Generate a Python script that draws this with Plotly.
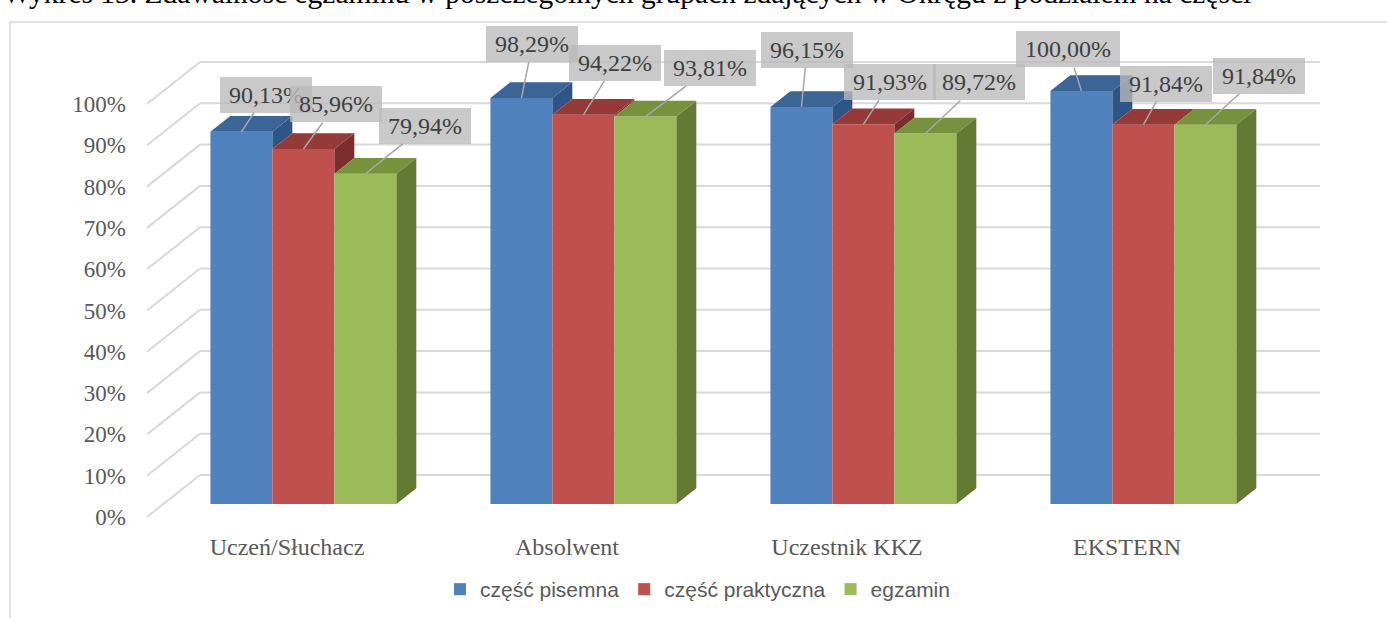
import plotly.graph_objects as go

# ---------------- data ----------------
categories = ["Uczeń/Słuchacz", "Absolwent", "Uczestnik KKZ", "EKSTERN"]
series_names = ["część pisemna", "część praktyczna", "egzamin"]
pisemna = [90.13, 98.29, 96.15, 100.00]
praktyczna = [85.96, 94.22, 91.93, 91.84]
egzamin = [79.94, 93.81, 89.72, 91.84]
tick_values = [0, 10, 20, 30, 40, 50, 60, 70, 80, 90, 100]
tick_labels = ["0%", "10%", "20%", "30%", "40%", "50%", "60%", "70%", "80%", "90%", "100%"]
title_text = ("Wykres 13. Zdawalność egzaminu w poszczególnych grupach zdających "
              "w Okręgu z podziałem na części")

series_values = [pisemna, praktyczna, egzamin]

# ---------------- style ----------------
FRONT = ["#4F81BD", "#C0504D", "#9BBB59"]
TOP = ["#3A6596", "#953A37", "#76923C"]
SIDE = ["#2F5486", "#7B2E2C", "#637A33"]
GRID = "#D9D9D9"
SERIF = "Liberation Serif, Times New Roman, serif"
SANS = "Liberation Sans, Arial, sans-serif"

W, H = 1387, 618
ML, MR = 147, 65
PX_PER_CAT = 280.0
PX_PER_PCT = 4.13
X0_PX = 287.0      # pixel of category 0 centre (front floor edge)
Y0_PX = 517.0      # pixel of 0% on front floor edge
DEPTH_DX = 53.0 / PX_PER_CAT      # x shift of full depth (category units)
DEPTH_DY = 42.0 / PX_PER_PCT      # y shift of full depth (% units)
D1, D2 = 0.31, 0.685              # bar front / back depth
BW = 62.0 / PX_PER_CAT            # bar width

x_lo = (ML - X0_PX) / PX_PER_CAT
x_hi = (W - MR - X0_PX) / PX_PER_CAT
y_lo = (Y0_PX - H) / PX_PER_PCT
y_hi = Y0_PX / PX_PER_PCT

# label offsets (pixels, box centre relative to bar top)
label_offsets = [
    [(24.5, -37), (32.5, -44.5), (59.5, -48)],
    [(11, -54), (32, -52), (64.5, -48.5)],
    [(5.7, -57), (27, -42), (54, -51)],
    [(-13, -41.5), (23, -41), (53.5, -49)],
]

fig = go.Figure()

# front faces (bars)
for k, (name, vals) in enumerate(zip(series_names, series_values)):
    xs = [i + (k - 1) * BW + D1 * DEPTH_DX for i in range(len(categories))]
    fig.add_trace(go.Bar(
        x=xs, y=vals, base=D1 * DEPTH_DY, width=BW, name=name,
        marker=dict(color=FRONT[k], line=dict(width=0)),
        hoverinfo="skip",
    ))

# top and side faces
for k, vals in enumerate(series_values):
    tx, ty, sx, sy = [], [], [], []
    for i, v in enumerate(vals):
        left = i + (k - 1) * BW - BW / 2
        right = left + BW
        # top face
        tx += [left + D1 * DEPTH_DX, right + D1 * DEPTH_DX, right + D2 * DEPTH_DX,
               left + D2 * DEPTH_DX, left + D1 * DEPTH_DX, None]
        ty += [v + D1 * DEPTH_DY, v + D1 * DEPTH_DY, v + D2 * DEPTH_DY,
               v + D2 * DEPTH_DY, v + D1 * DEPTH_DY, None]
        # visible part of right side face
        v_next = series_values[k + 1][i] if k + 1 < len(series_values) else 0.0
        if v > v_next:
            sx += [right + D1 * DEPTH_DX, right + D1 * DEPTH_DX, right + D2 * DEPTH_DX,
                   right + D2 * DEPTH_DX, right + D1 * DEPTH_DX, None]
            sy += [v_next + D1 * DEPTH_DY, v + D1 * DEPTH_DY, v + D2 * DEPTH_DY,
                   v_next + D2 * DEPTH_DY, v_next + D1 * DEPTH_DY, None]
    fig.add_trace(go.Scatter(x=sx, y=sy, mode="lines", fill="toself",
                             fillcolor=SIDE[k], line=dict(width=0, color=SIDE[k]),
                             showlegend=False, hoverinfo="skip"))
    fig.add_trace(go.Scatter(x=tx, y=ty, mode="lines", fill="toself",
                             fillcolor=TOP[k], line=dict(width=0, color=TOP[k]),
                             showlegend=False, hoverinfo="skip"))

# gridlines (back wall + side wall), below traces
shapes = []
x_left = -0.5
x_right = len(categories) - 0.5
for t in tick_values:
    shapes.append(dict(type="line", xref="x", yref="y", layer="below",
                       x0=x_left, y0=t, x1=x_left + DEPTH_DX, y1=t + DEPTH_DY,
                       line=dict(color=GRID, width=2)))
    shapes.append(dict(type="line", xref="x", yref="y", layer="below",
                       x0=x_left + DEPTH_DX, y0=t + DEPTH_DY,
                       x1=x_right + DEPTH_DX, y1=t + DEPTH_DY,
                       line=dict(color=GRID, width=2)))

# outer border of the chart object
pw = W - ML - MR
def px_to_paper_x(px):
    return (px - ML) / pw
def px_to_paper_y(py):
    return 1 - py / H
shapes.append(dict(type="line", xref="paper", yref="paper",
                   x0=px_to_paper_x(10), y0=px_to_paper_y(22),
                   x1=px_to_paper_x(10), y1=px_to_paper_y(H + 5),
                   line=dict(color=GRID, width=1.5)))
shapes.append(dict(type="line", xref="paper", yref="paper",
                   x0=px_to_paper_x(10), y0=px_to_paper_y(22),
                   x1=px_to_paper_x(W + 5), y1=px_to_paper_y(22),
                   line=dict(color=GRID, width=1.5)))

# data labels
annotations = []
for k, vals in enumerate(series_values):
    for i, v in enumerate(vals):
        txt = f"{v:.2f}%".replace(".", ",")
        ndig = sum(c.isdigit() for c in txt)
        bw = 24 * (0.5 * ndig + 0.25 + 0.833) + 16
        ax, ay = label_offsets[i][k]
        annotations.append(dict(
            x=i + (k - 1) * BW + D1 * DEPTH_DX, y=v + D1 * DEPTH_DY,
            xref="x", yref="y", text=txt, showarrow=True,
            arrowhead=0, arrowwidth=1.5, arrowcolor="#A6A6A6",
            standoff=0, startstandoff=0, ax=ax, ay=ay,
            bgcolor="rgba(186,186,186,0.78)", borderpad=1, borderwidth=0,
            width=bw, height=34,
            font=dict(family=SERIF, size=24, color="#404040"),
        ))

# cut-off caption from the document above
annotations.append(dict(
    xref="paper", yref="paper", x=px_to_paper_x(1), y=px_to_paper_y(-7),
    xanchor="left", yanchor="middle", showarrow=False, text=title_text,
    font=dict(family=SERIF, size=29.5, color="#000000"),
))

fig.update_layout(
    width=W, height=H,
    margin=dict(l=ML, r=MR, t=0, b=0, autoexpand=False),
    paper_bgcolor="white", plot_bgcolor="rgba(0,0,0,0)",
    barmode="overlay",
    shapes=shapes, annotations=annotations,
    xaxis=dict(range=[x_lo, x_hi], tickmode="array", tickvals=list(range(len(categories))),
               ticktext=categories, showgrid=False, zeroline=False, showline=False,
               ticks="", anchor="free", position=px_to_paper_y(530),
               tickfont=dict(family=SERIF, size=24, color="#595959")),
    yaxis=dict(range=[y_lo, y_hi], tickmode="array", tickvals=tick_values,
               ticktext=tick_labels, showgrid=False, zeroline=False, showline=False,
               ticks="", ticklabelstandoff=20,
               tickfont=dict(family=SERIF, size=23, color="#595959")),
    legend=dict(orientation="h", x=px_to_paper_x(440), y=px_to_paper_y(569),
                xanchor="left", yanchor="top", bgcolor="rgba(0,0,0,0)",
                font=dict(family=SANS, size=21, color="#595959"),
                traceorder="normal"),
    showlegend=True,
)

fig.write_html("out.html", config={"displayModeBar": False},
               post_script="document.body.style.margin='0px';")
